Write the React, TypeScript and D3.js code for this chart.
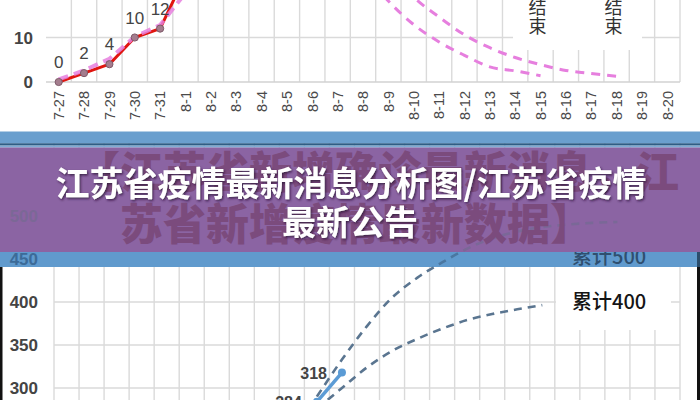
import React from "react";
import * as d3 from "d3";

const N = null;

const dates = [
  "7-27", "7-28", "7-29", "7-30", "7-31",
  "8-1", "8-2", "8-3", "8-4", "8-5", "8-6", "8-7", "8-8", "8-9", "8-10",
  "8-11", "8-12", "8-13", "8-14", "8-15", "8-16", "8-17", "8-18", "8-19", "8-20",
];

// top chart: daily new cases
const topTicks = [0, 10];
const newActual = [0, 2, 4, 10, 12, 24, N, N, N, N, N, N, N, N, N, N, N, N, N, N, N, N, N, N, N];
const newTrend = [0.6, 2.6, 5.2, 10.2, 12.8, 20, 34, N, N, N, N, N, N, N, N, N, N, N, N, N, N, N, N, N, N];
const forecastA = [N, N, N, N, N, N, N, N, N, N, N, 34, 25, 18.2, 12.9, 9.0, 6.0, 3.4, 2.5, 1.4, N, N, N, N, N];
const forecastB = [N, N, N, N, N, N, N, N, N, N, N, N, 36, 26, 19.1, 14.6, 10.6, 7.7, 5.5, 3.9, 2.6, 1.9, 1.3, N, N];
const endDates = ["8-15", "8-18"];
const endText = ["结", "束"];

// bottom chart: cumulative cases
const botTicks = [300, 350, 400];
const ghostTicksBlue = [450];
const ghostTicksPurple = [500];
const cumActual = [N, N, N, N, N, N, N, N, N, N, 284, 318, N, N, N, N, N, N, N, N, N, N, N, N, N];
const cumHigh = [N, N, N, N, N, N, N, N, N, N, 290, 333, 372, 405, 428, 446, 462, 474, 482, 487, 490, 492, 493, N, N];
const cumLow = [N, N, N, N, N, N, N, N, N, N, 276, 300, 324, 343, 357, 369, 379, 386, 391.5, 396.4, N, N, N, N, N];
const label400 = "累计400";
const label500 = "累计500";

const titleLines = ["江苏省疫情最新消息分析图/江苏省疫情", "最新公告"];
const ghostLines = ["【江苏省新增确诊最新消息，江", "苏省新增疫情最新数据】"];

const W = 700;
const H = 400;
const LAT = "'Liberation Sans', Arial, sans-serif";
const CJK = "'Noto Sans CJK SC', 'Noto Sans', sans-serif";

type V = number | null;

export default function App() {
  const xTop = d3.scaleBand<string>().domain(dates).range([46, 680]);
  const yTop = d3.scaleLinear().domain([0, 10]).range([82, 37.5]);
  const xBot = d3.scaleBand<string>().domain(dates).range([54, 680]);
  const yBot = d3.scaleLinear().domain([300, 400]).range([388, 302]);
  const cT = (i: number) => (xTop(dates[i]) as number) + xTop.bandwidth() / 2;
  const cB = (i: number) => (xBot(dates[i]) as number) + xBot.bandwidth() / 2;

  const mk = (cx: (i: number) => number, y: d3.ScaleLinear<number, number>, curve: d3.CurveFactory) =>
    d3
      .line<V>()
      .defined((v) => v != null)
      .x((_, i) => cx(i))
      .y((v) => y(v as number))
      .curve(curve);

  const topLin = mk(cT, yTop, d3.curveLinear);
  const topSmooth = mk(cT, yTop, d3.curveMonotoneX);
  const botLin = mk(cB, yBot, d3.curveLinear);
  const botSmooth = mk(cB, yBot, d3.curveMonotoneX);

  const topEdges = dates.map((d) => (xTop(d) as number) + xTop.bandwidth());
  const botEdges = [54, ...dates.map((d) => (xBot(d) as number) + xBot.bandwidth())];

  const pink = "#e67fde";
  const dashBlue = "#5a7590";
  const grid = "#dadada";

  return (
    <div style={{ position: "absolute", left: 0, top: 0, width: W, height: H }}>
      <svg width={W} height={H} viewBox={`0 0 ${W} ${H}`} style={{ display: "block", background: "#fff" }}>
        <defs>
          <filter id="ts" x="-5%" y="-30%" width="110%" height="160%">
            <feDropShadow dx="1.2" dy="1.5" stdDeviation="1.3" floodColor="#2a1530" floodOpacity="0.75" />
          </filter>
          <clipPath id="clipPurple">
            <rect x={0} y={147.5} width={W} height={104.5} />
          </clipPath>
          <clipPath id="clipBlue">
            <rect x={0} y={252} width={W} height={15} />
          </clipPath>
        </defs>

        {/* ================= TOP CHART ================= */}
        <g>
          {topEdges.map((x, i) => (
            <line key={"tv" + i} x1={x} x2={x} y1={0} y2={yTop(0)} stroke={grid} strokeWidth={1.4} />
          ))}
          {topTicks.map((t) => (
            <line key={"th" + t} x1={46} x2={680} y1={yTop(t)} y2={yTop(t)} stroke={t === 0 ? "#d2d2d2" : grid} strokeWidth={1.5} />
          ))}
          <rect x={513} y={0} width={129} height={50} fill="#fff" />
          {topTicks.map((t) => (
            <text key={"tl" + t} x={33} y={yTop(t)} dy="0.36em" textAnchor="end" fontFamily={LAT} fontWeight={700} fontSize={17} fill="#444">
              {t}
            </text>
          ))}
          {dates.map((d, i) => (
            <text
              key={"xl" + d}
              transform={`translate(${cT(i)},91) rotate(-90)`}
              dy="0.36em"
              textAnchor="end"
              fontFamily={LAT}
              fontSize={14.5}
              fill="#4a4a4a"
            >
              {d}
            </text>
          ))}
          <path d={topLin(newActual) || ""} fill="none" stroke="#e0150f" strokeWidth={3} strokeLinejoin="round" />
          <path d={topLin(newTrend) || ""} fill="none" stroke={pink} strokeWidth={4} strokeDasharray="10 6" opacity={0.85} />
          {newActual.map((v, i) =>
            v == null ? null : (
              <circle key={"tp" + i} cx={cT(i)} cy={yTop(v)} r={3.6} fill="#a47d8e" stroke="#7e5a69" strokeWidth={1} />
            )
          )}
          {newActual.map((v, i) =>
            v == null ? null : (
              <text key={"tdl" + i} x={cT(i)} y={yTop(v) - 14} textAnchor="middle" fontFamily={LAT} fontSize={17} fill="#444">
                {v}
              </text>
            )
          )}
          <path d={topSmooth(forecastA) || ""} fill="none" stroke={pink} strokeWidth={3} strokeDasharray="9 7" />
          <path d={topSmooth(forecastB) || ""} fill="none" stroke={pink} strokeWidth={3} strokeDasharray="9 7" />
          {endDates.map((d) => {
            const i = dates.indexOf(d);
            return endText.map((ch, k) => (
              <text key={"end" + d + k} x={cT(i) - 3} y={8 + k * 19} dy="0.36em" textAnchor="middle" fontFamily={CJK} fontSize={18} fill="#333">
                {ch}
              </text>
            ));
          })}
        </g>

        {/* ================= BOTTOM CHART ================= */}
        <g>
          {botEdges.map((x, i) => (
            <line key={"bv" + i} x1={x} x2={x} y1={140} y2={H} stroke={grid} strokeWidth={1.4} />
          ))}
          {botTicks.map((t) => (
            <line key={"bh" + t} x1={54} x2={680} y1={yBot(t)} y2={yBot(t)} stroke={grid} strokeWidth={1.5} />
          ))}
          <rect x={556} y={200} width={115} height={130} fill="#fff" />
          {botTicks.map((t) => (
            <text key={"bl" + t} x={38} y={yBot(t)} dy="0.36em" textAnchor="end" fontFamily={LAT} fontWeight={700} fontSize={17} fill="#444">
              {t}
            </text>
          ))}
          <path d={botSmooth(cumHigh) || ""} fill="none" stroke={dashBlue} strokeWidth={2.6} strokeDasharray="8 6" />
          <path d={botSmooth(cumLow) || ""} fill="none" stroke={dashBlue} strokeWidth={2.6} strokeDasharray="8 6" />
          <path d={botLin(cumActual) || ""} fill="none" stroke="#5b9bd5" strokeWidth={3.5} />
          {cumActual.map((v, i) =>
            v == null ? null : <circle key={"bp" + i} cx={cB(i)} cy={yBot(v)} r={4} fill="#5b9bd5" />
          )}
          {cumActual.map((v, i) =>
            v == null ? null : (
              <text key={"bdl" + i} x={cB(i) - 15} y={yBot(v) + 6} textAnchor="end" fontFamily={LAT} fontWeight={700} fontSize={16} fill="#444">
                {v}
              </text>
            )
          )}
          <text x={572} y={yBot(400) + 7} fontFamily={CJK} fontSize={20} fontWeight={500} fill="#151515">
            {label400}
          </text>
          <rect x={0} y={267} width={2.5} height={H - 267} fill="#111" />
          <rect x={697} y={252} width={3} height={H - 252} fill="#111" />
        </g>

        {/* ================= OVERLAY BANDS ================= */}
        <rect x={0} y={131.5} width={W} height={12} fill="#6a9fce" />
        <rect x={0} y={143.3} width={W} height={2.3} fill="#2f5d85" />
        <rect x={0} y={145.6} width={W} height={2} fill="#7fabd4" />
        <rect x={0} y={147.5} width={W} height={104.5} fill="#8b64a3" />
        <rect x={0} y={252} width={W} height={15} fill="#609acd" />
        <rect x={697} y={252} width={3} height={15} fill="#2c4d6c" />

        {/* ghosts in blue band */}
        <g clipPath="url(#clipBlue)">
          <path d={botSmooth(cumHigh) || ""} fill="none" stroke="#4a77a1" strokeWidth={2.6} strokeDasharray="8 6" />
          {ghostTicksBlue.map((t) => (
            <text key={"gb" + t} x={38} y={yBot(t)} dy="0.36em" textAnchor="end" fontFamily={LAT} fontWeight={700} fontSize={17} fill="#3c6b98">
              {t}
            </text>
          ))}
          <text x={572} y={yBot(450) + 5} fontFamily={CJK} fontSize={20} fontWeight={500} fill="#2f4f6f">
            {label500}
          </text>
        </g>

        {/* ghosts in purple band */}
        <g clipPath="url(#clipPurple)">
          <path d={botSmooth(cumHigh) || ""} fill="none" stroke="#7a6897" strokeWidth={2.6} strokeDasharray="8 6" />
          {ghostTicksPurple.map((t) => (
            <text key={"gp" + t} x={38} y={yBot(t)} dy="0.36em" textAnchor="end" fontFamily={LAT} fontWeight={700} fontSize={17} fill="#7b6896">
              {t}
            </text>
          ))}
          <text x={77} y={188} fontFamily={CJK} fontWeight={900} fontSize={43} fill="#7b4b7d">
            {ghostLines[0]}
          </text>
          <text x={120} y={240} fontFamily={CJK} fontWeight={900} fontSize={43} fill="#7b4b7d">
            {ghostLines[1]}
          </text>
        </g>

        {/* title */}
        <g filter="url(#ts)">
          <text x={351} y={196} textAnchor="middle" fontFamily={CJK} fontWeight={700} fontSize={34} fill="#fff">
            {titleLines[0]}
          </text>
          <text x={350} y={235} textAnchor="middle" fontFamily={CJK} fontWeight={700} fontSize={34} fill="#fff">
            {titleLines[1]}
          </text>
        </g>
      </svg>
    </div>
  );
}
